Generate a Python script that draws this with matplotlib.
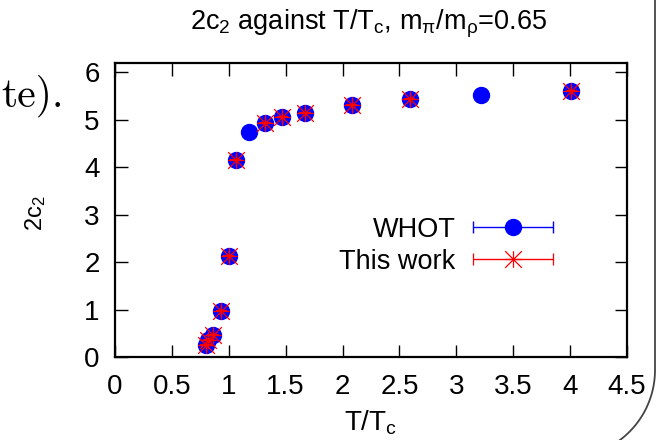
import numpy as np
import matplotlib
matplotlib.use("Agg")
import matplotlib.pyplot as plt
from matplotlib.path import Path
from matplotlib.container import ErrorbarContainer
from matplotlib.legend_handler import HandlerErrorbar

plt.rcParams['font.family'] = ['Liberation Sans', 'DejaVu Sans']
plt.rcParams['mathtext.fontset'] = 'custom'
plt.rcParams['mathtext.rm'] = 'Liberation Sans'
plt.rcParams['mathtext.it'] = 'Liberation Sans:italic'

# WHOT collaboration points
whot_x = [0.80, 0.82, 0.86, 0.935, 1.00, 1.06, 1.18, 1.32, 1.47, 1.67, 2.08, 2.59, 3.22, 4.01]
whot_y = [0.25, 0.36, 0.47, 0.97, 2.14, 4.15, 4.74, 4.93, 5.06, 5.14, 5.32, 5.44, 5.52, 5.60]
whot_xerr = [0.03] * len(whot_x)

# this work
this_x = [0.80, 0.82, 0.86, 0.935, 1.00, 1.06, 1.32, 1.47, 1.67, 2.08, 2.59, 4.01]
this_y = [0.25, 0.36, 0.47, 0.97, 2.14, 4.15, 4.93, 5.06, 5.14, 5.32, 5.44, 5.60]
this_xerr = [0.05] * len(this_x)

xticks = [0, 0.5, 1, 1.5, 2, 2.5, 3, 3.5, 4, 4.5]
xticklabels = ['0', '0.5', '1', '1.5', '2', '2.5', '3', '3.5', '4', '4.5']
yticks = [0, 1, 2, 3, 4, 5, 6]

W, H = 668, 440

def fx(x):
  return x / W

def fy(y):
  return 1.0 - y / H

# gnuplot style asterisk: a "+" and an "x" on top of each other
asterisk = Path(
  [(-1, 0), (1, 0), (0, -1), (0, 1), (-1, -1), (1, 1), (-1, 1), (1, -1)],
  [Path.MOVETO, Path.LINETO] * 4)

fig = plt.figure(figsize=(W / 100, H / 100), dpi=100)
ax = fig.add_axes([fx(115), fy(357.3), fx(627 - 115), (357.3 - 62.7) / H])

eb1 = ax.errorbar(whot_x, whot_y, xerr=whot_xerr, fmt='o', color='#0000ff',
                  markersize=11.5, elinewidth=1.0, capsize=4, capthick=1.0,
                  label='WHOT', zorder=3)
eb2 = ax.errorbar(this_x, this_y, xerr=this_xerr, fmt='none', ecolor='#ff0000',
                  elinewidth=1.6, capsize=0, label='_nolegend_', zorder=4)
eb3 = ax.errorbar(this_x, this_y, xerr=[0] * len(this_x), marker=asterisk,
                  linestyle='none', color='#ff0000', markerfacecolor='none',
                  markeredgewidth=0.9, markersize=12, elinewidth=1.0,
                  capsize=4, capthick=1.0, label='This work', zorder=5)

ax.set_xlim(0, 4.5)
ax.set_ylim(0, 6.2)
ax.set_xticks(xticks)
ax.set_xticklabels(xticklabels)
ax.set_yticks(yticks)
ax.tick_params(direction='in', length=9, width=1.0, top=True, right=True,
               labelsize=20)
ax.tick_params(axis='x', pad=12)
ax.tick_params(axis='y', pad=11)
for s in ax.spines.values():
  s.set_linewidth(1.6)

ax.set_xlabel('T/T$_\\mathrm{c}$', fontsize=20)
ax.xaxis.set_label_coords(0.5, -0.175)
ax.set_ylabel('2c$_2$', fontsize=17)
ax.yaxis.set_label_coords(-0.13, 0.49)

leg = ax.legend(handles=[eb1, eb3], labels=['WHOT', 'This work'],
                loc='center right', bbox_to_anchor=(0.855, 0.378),
                frameon=False, markerfirst=False, fontsize=19.5,
                handlelength=2.95, handletextpad=0.65, labelspacing=0.22,
                borderpad=0, borderaxespad=0, numpoints=1,
                handler_map={ErrorbarContainer: HandlerErrorbar(xerr_size=1.47)})

fig.text(fx(369), fy(30), '2c$_2$ against T/T$_\\mathrm{c}$, m$_\\mathrm{\u03c0}$/m$_\\mathrm{\u03c1}$=0.65',
         ha='center', va='baseline', fontsize=19.5)

# bits of the surrounding page that got into the screenshot
fig.text(fx(1), fy(107), 'te).', family='cmr10', fontsize=30,
         ha='left', va='baseline')
cx, cy, r = 567.5, 370.0, 87.5
ang = np.linspace(0, np.pi / 3, 40)
px = np.concatenate([[655.0], cx + r * np.cos(ang)])
py = np.concatenate([[0.0], cy + r * np.sin(ang)])
fig.add_artist(plt.Line2D(fx(px), fy(py), color='#444444', linewidth=1.3,
                          transform=fig.transFigure))

fig.savefig('out.png', dpi=100)
